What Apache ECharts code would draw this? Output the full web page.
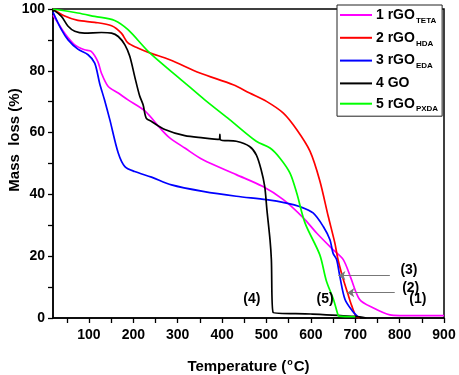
<!DOCTYPE html>
<html>
<head>
<meta charset="utf-8">
<script src="https://cdn.jsdelivr.net/npm/echarts@6/dist/echarts.min.js"></script>
<style>
html,body{margin:0;padding:0;background:#fff;}
#tga{width:459px;height:375px;}
</style>
</head>
<body>
<div id="tga"></div>
<script>
// TGA curves, [temperature (C), mass (%)]
var seriesNames = ['1 rGO_TETA', '2 rGO_HDA', '3 rGO_EDA', '4 GO', '5 rGO_PXDA'];
var seriesColors = ['#ff00ff', '#ff0000', '#0000ff', '#000000', '#00ff00'];

var tetaData = [[19,98],[30,95.5],[45,92.2],[68,88.4],[90,86.8],[105,86.3],[120,83],[128,79.3],[143,75],[166,72.8],
    [188,70.6],[226,67],[263,61],[282,58.3],[316,55],[357,51.2],[432,46.4],[491,42.6],[538,38.3],[583,32.4],
    [613,27.5],[650,22.1],[673,18.9],[690,13],[710,6],[740,3.3],[778,1],[800,0.8],[900,0.8]];
var hdaData = [[19,100],[44,97.8],[75,96.3],[113,95.7],[151,94.6],[173,92.2],[188,89],[210,87.4],[237,85.8],[282,83.6],
    [350,79.3],[425,75.5],[462,72.8],[500,70.1],[538,66.3],[568,61],[598,54],[620,44.5],[639,33],[654,24.3],
    [661,19],[672,13],[683,8],[692,4],[702,0.5],[710,0]];
var edaData = [[19,99],[38,93.3],[53,90],[75,87],[98,85.2],[113,82.5],[124,76],[135,70.6],[147,64.2],[166,53.4],
    [181,49],[203,47.4],[241,45.6],[286,43.1],[357,41],[432,39.4],[500,38.3],[545,37.2],[576,36],[605,34],
    [628,29.6],[643,25.3],[650,21],[658,18.9],[665,13.7],[677,6],[695,2],[705,0.5]];
var goData = [[19,99.8],[38,97.6],[53,94.4],[68,92.8],[90,92.2],[128,92.4],[151,92.2],[166,91.1],[181,88.4],[192,84.7],
    [203,78.2],[214,72],[222,69],[229,64.7],[241,63.6],[271,61],[316,59],[357,58.3],[394,57.8],[395,59.4],[396,57.7],
    [432,57.2],[462,55.5],[477,52.8],[488,48],[496,42.6],[501,35],[508,25.3],[511,19],[515,1.8],[600,1.3],[700,0.5],[725,0]];
var pxdaData = [[19,100],[75,98.7],[113,97.6],[158,96.3],[188,93.3],[237,85.8],[312,76.6],[361,70.6],[417,64.2],[477,57.2],
    [508,55],[530,51.8],[553,46.9],[568,40.5],[587,30.7],[620,20.5],[635,12],[651,6],[660,1.5],[663,0.6],[700,0.4]];

// axis ticks
var xTickValues = [50,100,150,200,250,300,350,400,450,500,550,600,650,700,750,800,850,900];
var xLabelValues = [100,200,300,400,500,600,700,800,900];
var yTickValues = [0,10,20,30,40,50,60,70,80,90,100];
var yLabelValues = [0,20,40,60,80,100];

// curve labels and arrows
var curveLabels = [['(1)',841,6.0],['(2)',825,9.8],['(3)',821,15.6],['(4)',467,6.0],['(5)',632,6.0]];
var arrows = [[[778,13.7],[662,13.7]], [[789,8.2],[682,8.2]]];

var allData = [tetaData, hdaData, edaData, goData, pxdaData];
var font = 'Liberation Sans, Arial, sans-serif';

var series = [];
for (var i = 0; i < seriesNames.length; i++) {
    series.push({
        name: seriesNames[i],
        type: 'line',
        data: allData[i],
        symbol: 'none',
        smooth: 0.3,
        lineStyle: {color: seriesColors[i], width: 1.7},
        itemStyle: {color: seriesColors[i]},
        z: 2
    });
}
// annotations
series.push({
    name: 'notes',
    type: 'line',
    data: [],
    silent: true,
    markLine: {
        symbol: ['none', 'arrow'],
        symbolSize: 7,
        label: {show: false},
        lineStyle: {color: '#777', width: 1.2, type: 'solid'},
        data: arrows.map(function (a) {
            return [{coord: a[0]}, {coord: a[1]}];
        })
    },
    markPoint: {
        symbol: 'circle',
        symbolSize: 1,
        itemStyle: {color: 'rgba(0,0,0,0)'},
        label: {show: true, position: 'inside', color: '#000', fontSize: 14, fontWeight: 'bold', fontFamily: font},
        data: curveLabels.map(function (c) {
            return {coord: [c[1], c[2]], label: {formatter: c[0]}};
        })
    }
});

var myChart = echarts.init(document.getElementById('tga'));
var option = {
    animation: false,
    grid: {
        left: 53, right: 15, top: 9, bottom: 57,
        outerBoundsMode: 'none',
        containLabel: false,
        show: true, borderColor: '#000', borderWidth: 1.5
    },
    legend: {
        data: seriesNames,
        orient: 'vertical',
        left: 337, top: 5,
        padding: [3, 4, 3, 3],
        itemGap: 6.3,
        icon: 'rect',
        itemWidth: 32,
        itemHeight: 2,
        borderColor: '#222',
        borderWidth: 1,
        backgroundColor: '#fff',
        formatter: function (name) {
            var p = name.split('_');
            return p.length > 1 ? p[0] + '{sub|' + p[1] + '}' : p[0];
        },
        textStyle: {
            color: '#000', fontSize: 14, fontWeight: 'bold', fontFamily: font,
            padding: [0, 0, 0, -1],
            rich: {
                sub: {fontSize: 8, fontWeight: 'bold', fontFamily: font, color: '#000', verticalAlign: 'bottom', padding: [11, 0, 0, 1]}
            }
        }
    },
    xAxis: {
        type: 'value',
        min: 19,
        max: 900,
        name: 'Temperature ({sup|o}C)',
        nameLocation: 'middle',
        nameGap: 40,
        nameTextStyle: {
            color: '#000', fontSize: 15, fontWeight: 'bold', fontFamily: font,
            rich: {sup: {fontSize: 9, fontWeight: 'bold', fontFamily: font, color: '#000', verticalAlign: 'top', padding: [0, 1, 8, 1]}}
        },
        axisLine: {show: true, lineStyle: {color: '#000', width: 1.5}},
        axisTick: {show: true, inside: false, length: 5, customValues: xTickValues, lineStyle: {color: '#000', width: 1.3}},
        axisLabel: {customValues: xLabelValues, margin: 10, color: '#000', fontSize: 14, fontWeight: 'bold', fontFamily: font},
        splitLine: {show: false}
    },
    yAxis: {
        type: 'value',
        min: 0,
        max: 100,
        name: 'Mass  loss (%)',
        nameLocation: 'middle',
        nameMoveOverlap: false,
        nameGap: 31,
        nameTextStyle: {color: '#000', fontSize: 15, fontWeight: 'bold', fontFamily: font, padding: [0, 0, 0, 47]},
        axisLine: {show: true, lineStyle: {color: '#000', width: 1.5}},
        axisTick: {show: true, inside: false, length: 5, customValues: yTickValues, lineStyle: {color: '#000', width: 1.3}},
        axisLabel: {customValues: yLabelValues, margin: 8, color: '#000', fontSize: 14, fontWeight: 'bold', fontFamily: font},
        splitLine: {show: false}
    },
    series: series
};
myChart.setOption(option);
</script>
</body>
</html>
